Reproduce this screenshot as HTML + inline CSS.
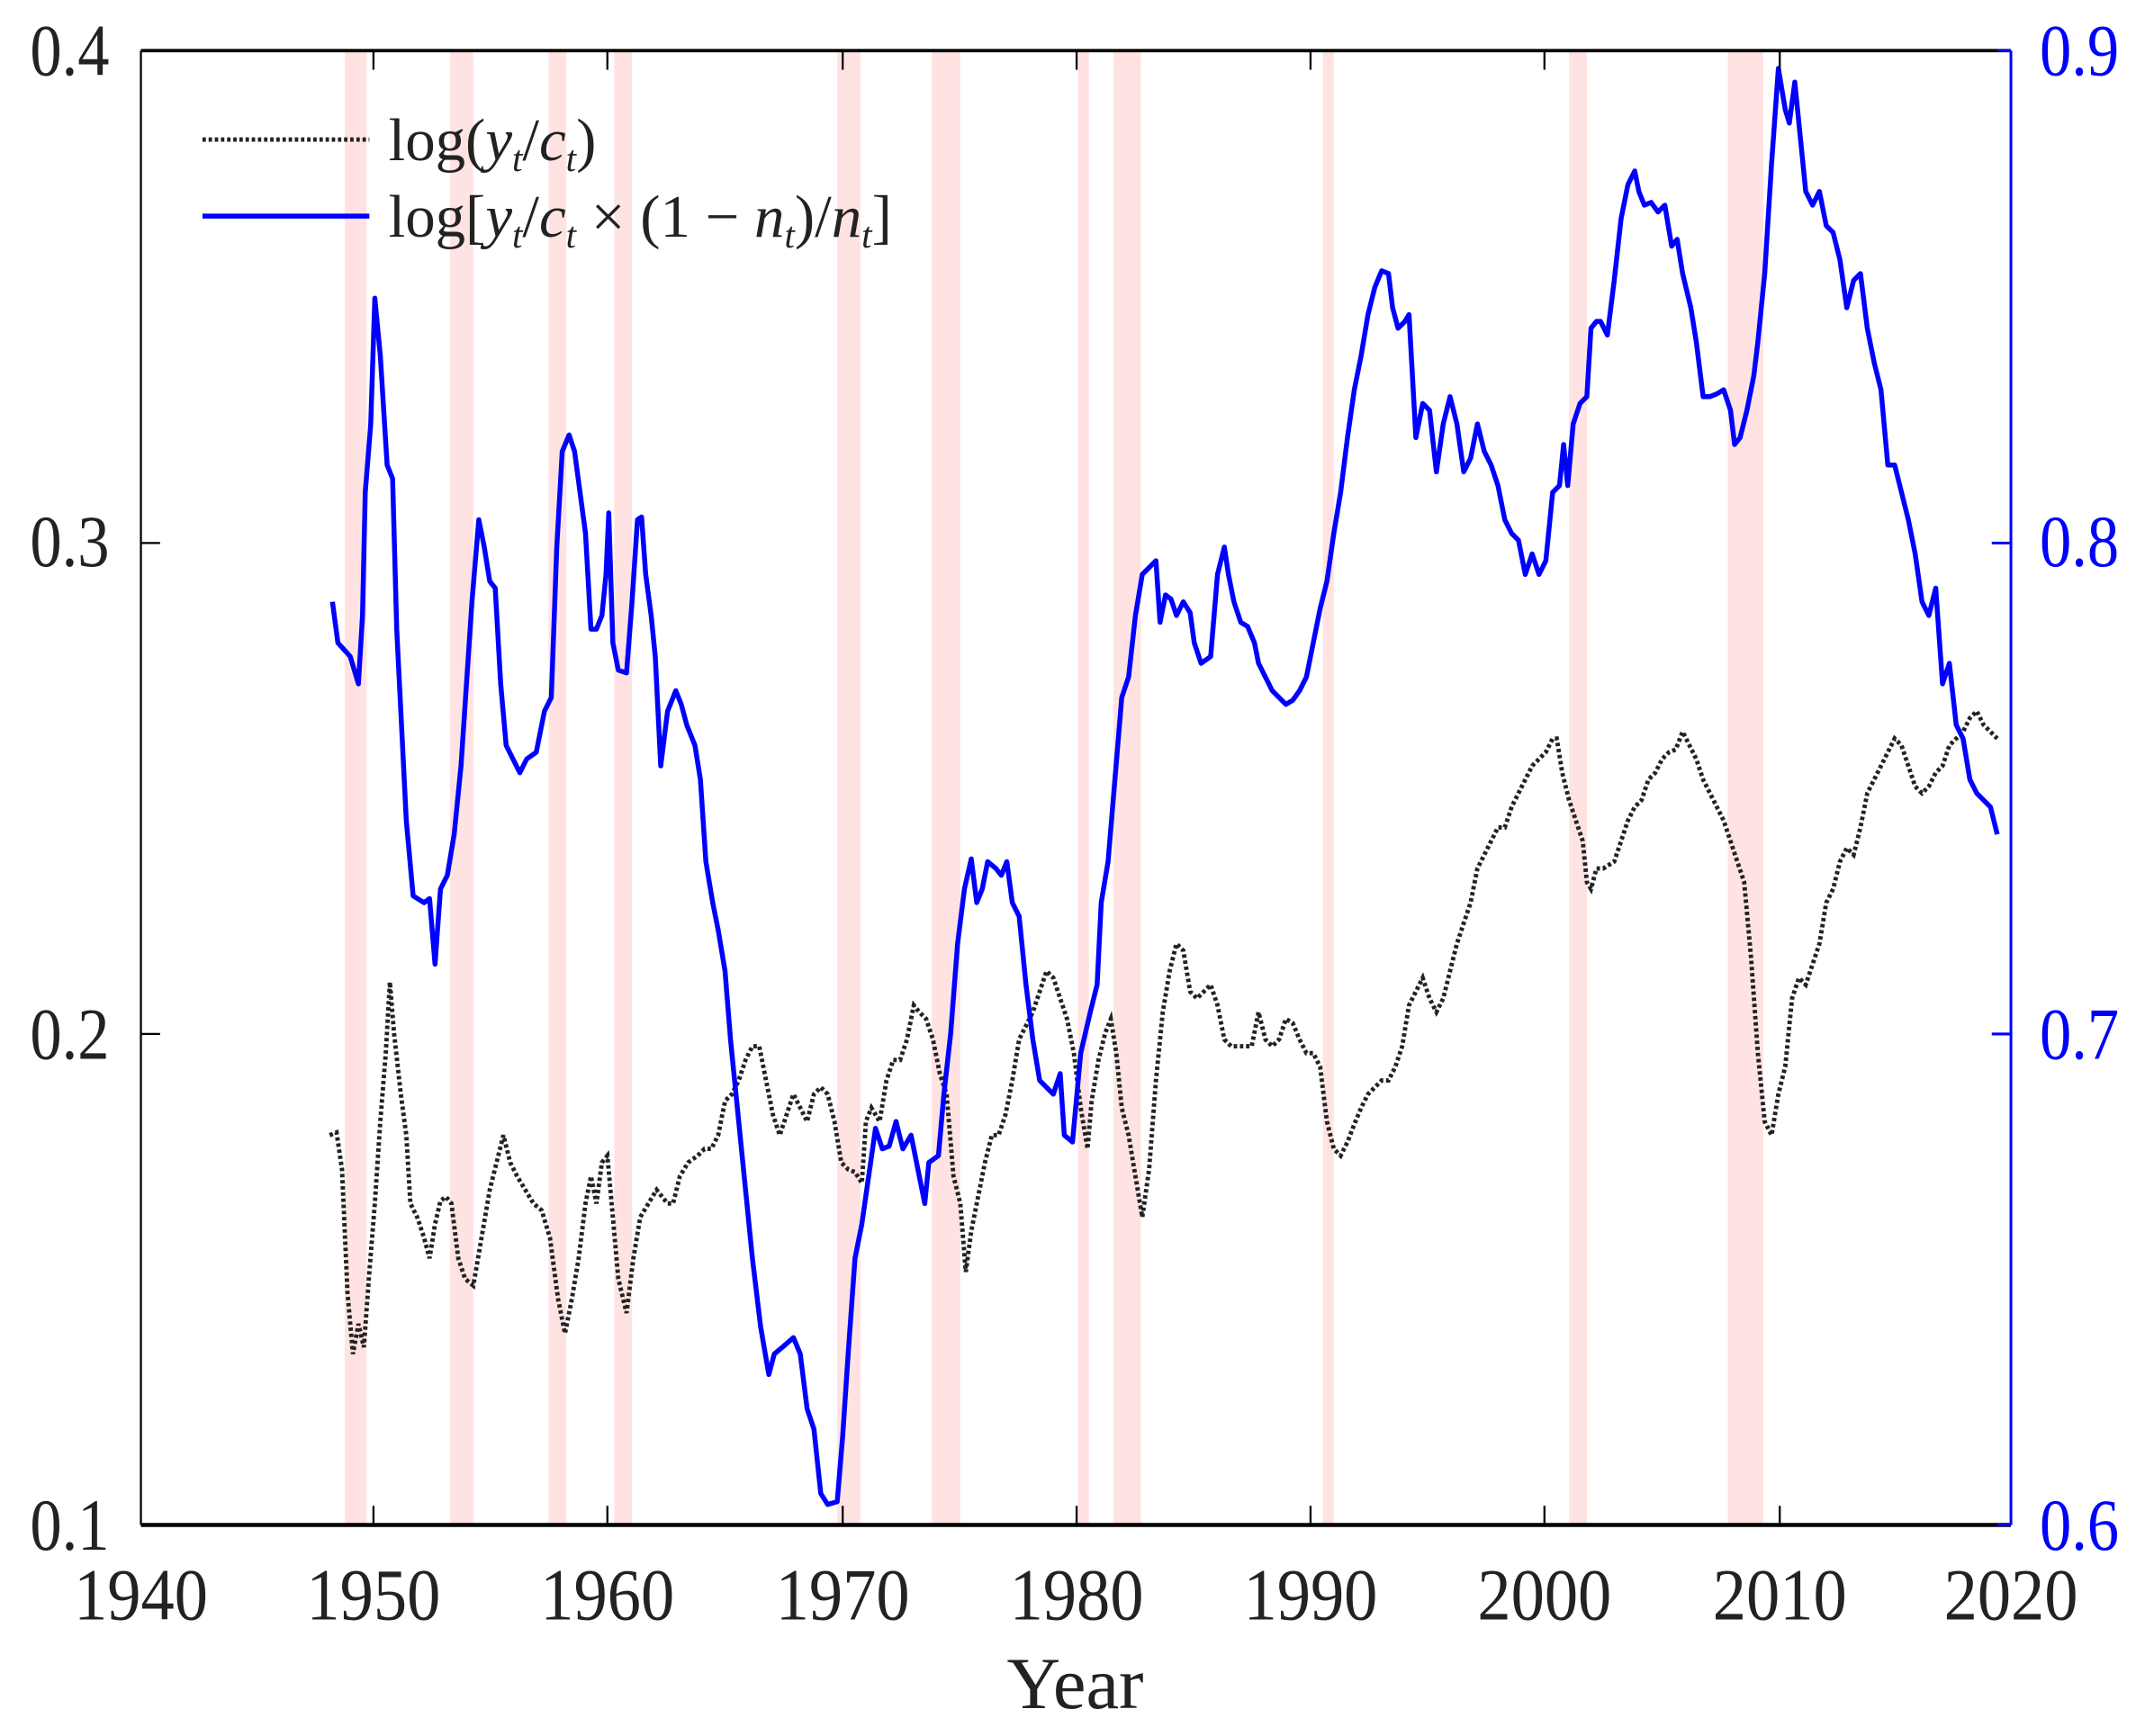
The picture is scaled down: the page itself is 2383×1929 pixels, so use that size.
<!DOCTYPE html>
<html><head><meta charset="utf-8"><style>html,body{margin:0;padding:0;background:#fff}svg{display:block}</style></head>
<body>
<svg width="2383" height="1929" viewBox="0 0 1568 1269.3" preserveAspectRatio="none" xmlns="http://www.w3.org/2000/svg" font-family="Liberation Serif, serif">
<g fill="#ffe3e3">
<rect x="252" y="37" width="16" height="1078"/><rect x="329" y="37" width="17" height="1078"/>
<rect x="401" y="37" width="13" height="1078"/><rect x="449" y="37" width="13" height="1078"/>
<rect x="612" y="37" width="17" height="1078"/><rect x="681" y="37" width="21" height="1078"/>
<rect x="788" y="37" width="8" height="1078"/><rect x="814" y="37" width="20" height="1078"/>
<rect x="967" y="37" width="8" height="1078"/><rect x="1147" y="37" width="13" height="1078"/>
<rect x="1263" y="37" width="26" height="1078"/>
</g>
<polyline fill="none" stroke="#222" stroke-width="3.2" stroke-dasharray="2.5,2" points="241,830 246,828 250,855 254,945 258,990 262,968 266,985 270,930 274,880 278,820 282,770 285,718 288,755 293,800 297,830 300,880 305,890 310,905 314,920 318,895 322,878 326,875 330,880 335,920 340,935 346,940 352,905 358,870 363,850 368,830 373,850 378,860 384,870 390,880 396,885 402,905 408,950 413,975 418,950 423,920 428,880 432,860 436,880 440,850 444,845 448,890 452,935 458,960 463,920 468,890 474,880 480,870 488,880 492,880 497,860 503,850 510,845 515,840 520,840 525,830 530,805 535,800 540,790 545,775 550,765 555,765 560,790 565,815 570,830 575,815 580,800 585,810 590,820 595,800 600,795 605,800 610,820 615,850 620,855 625,857 630,865 633,820 637,810 643,820 648,790 653,775 658,775 663,760 668,735 672,740 677,745 682,760 687,785 692,800 697,860 702,880 706,930 710,900 715,875 720,850 725,830 730,830 735,815 740,790 745,760 750,750 755,740 760,725 765,710 770,715 775,730 780,745 785,770 790,810 795,840 798,805 803,775 808,755 812,745 816,770 820,810 825,830 830,860 835,890 840,855 845,790 850,740 855,710 860,690 865,695 870,725 875,730 880,725 885,720 890,735 895,760 900,765 905,765 910,765 915,765 920,740 925,760 930,765 935,760 940,745 945,748 950,760 955,770 960,770 965,780 970,820 975,840 980,845 985,835 990,822 995,810 1000,800 1005,795 1010,790 1015,790 1020,780 1025,765 1030,735 1035,725 1040,715 1045,730 1050,740 1055,730 1060,710 1065,690 1070,675 1075,660 1080,635 1085,625 1090,615 1095,605 1100,605 1105,590 1110,580 1115,570 1120,560 1125,555 1130,550 1135,540 1138,540 1142,565 1147,585 1152,600 1157,615 1160,645 1163,650 1167,635 1172,635 1180,630 1185,615 1190,600 1195,590 1200,585 1205,570 1210,565 1215,555 1220,550 1225,548 1230,535 1235,545 1240,555 1245,570 1250,580 1255,590 1260,600 1265,615 1270,630 1275,645 1280,700 1285,770 1290,820 1295,830 1300,800 1305,780 1310,730 1315,715 1320,720 1325,705 1330,690 1335,660 1340,650 1345,630 1350,620 1355,625 1360,605 1365,580 1370,570 1375,560 1380,550 1385,540 1390,545 1395,560 1400,575 1405,580 1410,575 1415,565 1420,560 1425,545 1430,540 1435,535 1440,525 1445,520 1450,530 1455,535 1460,540"/>
<polyline fill="none" stroke="#0000ff" stroke-width="3.6" stroke-linejoin="round" points="243,440 247,470 256,480 262,500 265,450 267,360 271,310 274,218 278,260 283,340 287,350 290,460 294,540 297,600 302,655 310,660 314,657 318,705 322,650 327,640 332,610 337,560 345,440 350,380 354,400 358,425 362,430 366,500 370,545 375,555 380,565 385,555 392,550 398,520 403,510 407,400 411,330 416,318 420,330 424,360 428,390 432,460 436,460 440,450 443,420 445,375 448,470 452,490 458,492 462,440 466,380 469,378 472,420 476,450 479,480 483,560 488,520 494,505 498,515 502,530 508,545 512,570 516,630 521,660 525,680 530,710 534,760 540,820 546,880 550,920 556,970 562,1005 566,990 572,985 580,978 585,990 590,1030 595,1045 600,1092 605,1100 612,1098 616,1050 620,990 625,920 630,895 635,860 640,825 645,840 650,838 655,820 660,840 666,830 672,860 676,880 679,850 686,845 690,800 695,755 700,690 705,650 710,628 714,660 718,650 722,630 728,635 732,640 736,630 740,660 745,670 750,720 755,760 760,790 765,795 770,800 775,785 778,830 784,835 790,770 797,740 802,720 805,660 810,630 815,570 820,510 825,495 830,450 835,420 840,415 845,410 848,455 852,435 856,438 860,450 865,440 870,448 873,470 878,485 885,480 890,420 895,400 898,420 902,440 907,455 912,458 917,470 920,485 925,495 930,505 935,510 940,515 945,512 950,505 955,495 960,470 965,445 970,425 975,390 980,360 985,320 990,285 995,260 1000,230 1005,210 1010,198 1015,200 1018,225 1022,240 1027,235 1030,230 1035,320 1040,295 1045,300 1050,345 1055,310 1060,290 1065,310 1070,345 1075,335 1080,310 1085,330 1090,340 1095,355 1100,380 1105,390 1110,395 1115,420 1120,405 1125,420 1130,410 1135,360 1140,355 1143,325 1146,355 1150,310 1155,295 1160,290 1163,240 1167,235 1170,235 1175,245 1180,205 1185,160 1190,135 1195,125 1198,140 1202,150 1207,148 1212,155 1217,150 1222,180 1226,175 1230,200 1236,225 1240,250 1245,290 1250,290 1255,288 1260,285 1265,300 1268,325 1272,320 1277,300 1282,275 1285,250 1290,200 1295,120 1300,50 1305,80 1308,90 1312,60 1316,100 1320,140 1325,150 1330,140 1335,165 1340,170 1345,190 1350,225 1355,205 1360,200 1365,240 1370,265 1375,285 1380,340 1385,340 1390,360 1395,380 1400,405 1405,440 1410,450 1415,430 1420,500 1425,485 1430,530 1435,540 1440,570 1445,580 1450,585 1455,590 1460,610"/>
<g stroke="#000" stroke-width="1.5" fill="none">
<line x1="103" y1="37" x2="1470" y2="37" stroke-width="2.5"/>
<line x1="103" y1="1115" x2="1470" y2="1115" stroke-width="3"/>
<line x1="103" y1="37" x2="103" y2="1115"/>
<path d="M273,37v14M444,37v14M616,37v14M787,37v14M958,37v14M1129,37v14M1301,37v14M273,1115v-14M444,1115v-14M616,1115v-14M787,1115v-14M958,1115v-14M1129,1115v-14M1301,1115v-14M103,397h14M103,756h14"/>
</g>
<g stroke="#0000ff" stroke-width="2" fill="none">
<line x1="1470" y1="37" x2="1470" y2="1115"/>
<path d="M1470,37h-10M1470,397h-14M1470,756h-14M1470,1115h-10"/>
</g>
<g font-size="54" fill="#222" text-anchor="end">
<text x="80" y="55" textLength="58" lengthAdjust="spacingAndGlyphs">0.4</text>
<text x="80" y="414" textLength="58" lengthAdjust="spacingAndGlyphs">0.3</text>
<text x="80" y="774" textLength="58" lengthAdjust="spacingAndGlyphs">0.2</text>
<text x="80" y="1133" textLength="58" lengthAdjust="spacingAndGlyphs">0.1</text>
</g>
<g font-size="54" fill="#0000ff">
<text x="1491" y="55" textLength="58" lengthAdjust="spacingAndGlyphs">0.9</text>
<text x="1491" y="414" textLength="58" lengthAdjust="spacingAndGlyphs">0.8</text>
<text x="1491" y="774" textLength="58" lengthAdjust="spacingAndGlyphs">0.7</text>
<text x="1491" y="1133" textLength="58" lengthAdjust="spacingAndGlyphs">0.6</text>
</g>
<g font-size="54" fill="#222" text-anchor="middle">
<text x="103" y="1184" textLength="98" lengthAdjust="spacingAndGlyphs">1940</text><text x="273" y="1184" textLength="98" lengthAdjust="spacingAndGlyphs">1950</text><text x="444" y="1184" textLength="98" lengthAdjust="spacingAndGlyphs">1960</text>
<text x="616" y="1184" textLength="98" lengthAdjust="spacingAndGlyphs">1970</text><text x="787" y="1184" textLength="98" lengthAdjust="spacingAndGlyphs">1980</text><text x="958" y="1184" textLength="98" lengthAdjust="spacingAndGlyphs">1990</text>
<text x="1129" y="1184" textLength="98" lengthAdjust="spacingAndGlyphs">2000</text><text x="1301" y="1184" textLength="98" lengthAdjust="spacingAndGlyphs">2010</text><text x="1470" y="1184" textLength="98" lengthAdjust="spacingAndGlyphs">2020</text>
<text x="786" y="1249" textLength="100" lengthAdjust="spacingAndGlyphs">Year</text>
</g>
<line x1="148" y1="102" x2="270" y2="102" stroke="#222" stroke-width="3.2" stroke-dasharray="2.5,2"/>
<line x1="148" y1="158" x2="270" y2="158" stroke="#0000ff" stroke-width="3.6"/>
<g font-size="44" fill="#222">
<text x="284" y="117">log(<tspan font-style="italic">y</tspan><tspan font-size="27" font-style="italic" dy="8">t</tspan><tspan dy="-8">/</tspan><tspan font-style="italic">c</tspan><tspan font-size="27" font-style="italic" dy="8">t</tspan><tspan dy="-8">)</tspan></text>
<text x="284" y="173">log[<tspan font-style="italic">y</tspan><tspan font-size="27" font-style="italic" dy="8">t</tspan><tspan dy="-8">/</tspan><tspan font-style="italic">c</tspan><tspan font-size="27" font-style="italic" dy="8">t</tspan><tspan dy="-8"> × (1 − </tspan><tspan font-style="italic">n</tspan><tspan font-size="27" font-style="italic" dy="8">t</tspan><tspan dy="-8">)/</tspan><tspan font-style="italic">n</tspan><tspan font-size="27" font-style="italic" dy="8">t</tspan><tspan dy="-8">]</tspan></text>
</g>
</svg>
</body></html>
